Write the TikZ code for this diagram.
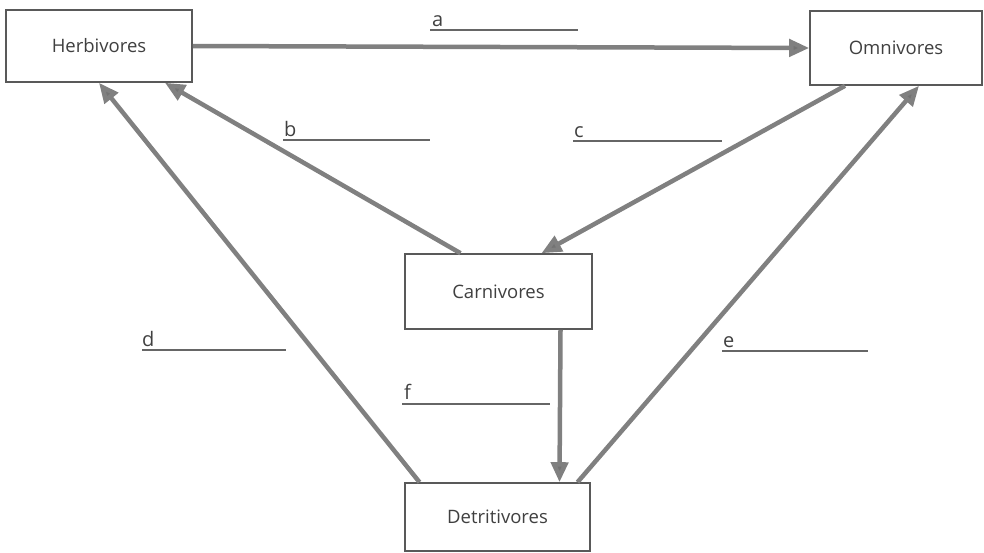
\documentclass[tikz,border=0pt]{standalone}
\usepackage{fontspec}
\setmainfont{Open Sans}
\usetikzlibrary{arrows.meta,calc}
\begin{document}
\begin{tikzpicture}[x=1pt,y=-1pt,
  box/.style={draw=black!65,line width=1.6pt,fill=white,inner sep=0pt,
    font=\fontsize{18.5}{20}\selectfont,text=black!75},
  flow/.style={draw=black!50,line width=4.5pt,
    -{Triangle[length=20pt,width=17pt,fill=black!55]}},
  lbl/.style={font=\fontsize{20}{22}\selectfont,text=black!75,anchor=south west,inner sep=0pt},
  blank/.style={draw=black!60,line width=1.4pt}]
\useasboundingbox (0,0) rectangle (984,552);
\node[box,minimum width=186pt,minimum height=72pt] (herb) at (99,46) {Herbivores};
\node[box,minimum width=172pt,minimum height=74pt] (omni) at (896,48) {Omnivores};
\node[box,minimum width=187pt,minimum height=75pt] (carn) at (498.5,291.5) {Carnivores};
\node[box,minimum width=185pt,minimum height=68pt] (detr) at (497.5,517) {Detritivores};
% connectors
\draw[flow] (herb.east) -- (omni.west);
\draw[flow] ($(carn.north)+(-38,0)$) -- ($(herb.south)+(66,0)$);
\draw[flow] ($(omni.south)+(-51,0)$) -- ($(carn.north)+(43,0)$);
\draw[flow] ($(detr.north)+(-78,0)$) -- ($(herb.south)+(0,0)$);
\draw[flow] ($(detr.north)+(80,0)$) -- ($(omni.south)+(23,0)$);
\draw[flow] ($(carn.south)+(62,0)$) -- ($(detr.north)+(62,0)$);
% labels with answer lines
\node[lbl] (la) at (432,27) {a};
\coordinate (la1) at (430,30); \coordinate (la2) at (578,30);
\draw[blank] (la1) -- (la2);
\node[lbl] (lb) at (284,137) {b};
\coordinate (lb1) at (283,140); \coordinate (lb2) at (430,140);
\draw[blank] (lb1) -- (lb2);
\node[lbl] (lc) at (574,138) {c};
\coordinate (lc1) at (573,141); \coordinate (lc2) at (722,141);
\draw[blank] (lc1) -- (lc2);
\node[lbl] (ld) at (142,347) {d};
\coordinate (ld1) at (142,350); \coordinate (ld2) at (286,350);
\draw[blank] (ld1) -- (ld2);
\node[lbl] (le) at (723,348) {e};
\coordinate (le1) at (722,351); \coordinate (le2) at (868,351);
\draw[blank] (le1) -- (le2);
\node[lbl] (lf) at (404,400) {f};
\coordinate (lf1) at (402,404); \coordinate (lf2) at (550,404);
\draw[blank] (lf1) -- (lf2);
\end{tikzpicture}
\end{document}
